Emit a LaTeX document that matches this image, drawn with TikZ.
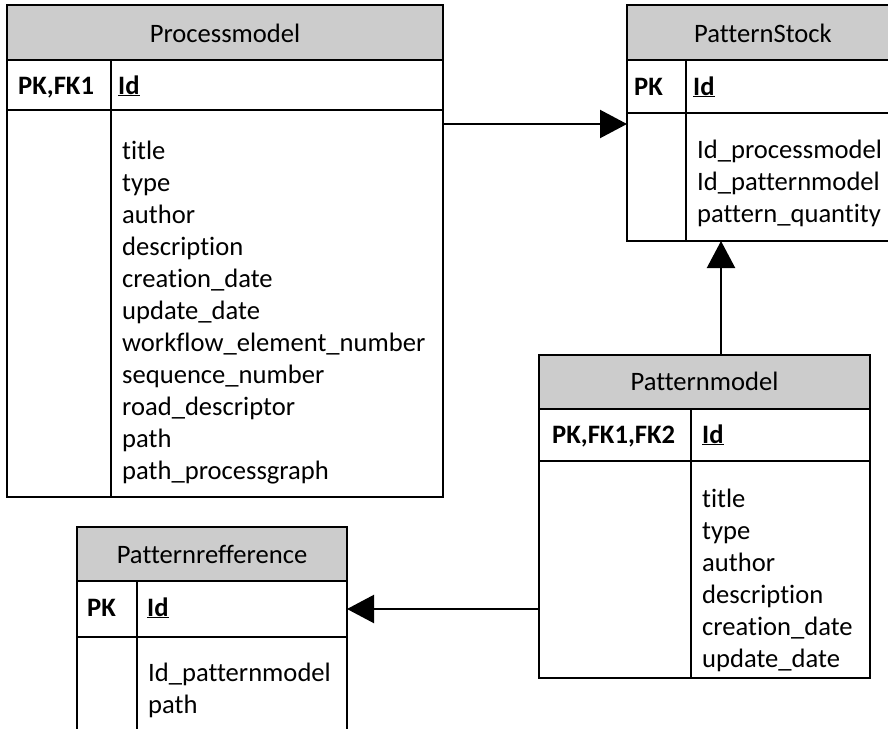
\documentclass[tikz,border=0pt]{standalone}
\usepackage{fontspec}
\setmainfont{Carlito}[Ligatures=NoCommon]
\usetikzlibrary{arrows.meta}
\definecolor{hdrgray}{RGB}{204,204,204}
\begin{document}
\begin{tikzpicture}[x=1pt,y=-1pt,
  font=\fontsize{26.6pt}{32pt}\selectfont,
  cell/.style={draw=black, line width=1.8pt, rectangle, inner sep=0pt, outer sep=0pt, anchor=north west},
  hdr/.style={cell, fill=hdrgray},
  txt/.style={anchor=base west, inner sep=0pt},
  htxt/.style={anchor=base, inner sep=0pt},
  key/.style={txt, font=\fontsize{26.6pt}{32pt}\selectfont\bfseries},
  conn/.style={line width=2.2pt, -{Triangle[length=27pt,width=28pt]}}]
\useasboundingbox (0,0) rectangle (888,728);
\fill[white] (0,0) rectangle (888,728);

% ---------- Processmodel ----------
\node[hdr, minimum width=436pt, minimum height=55pt] (pmh) at (7,5) {};
\node[cell, minimum width=104pt, minimum height=50pt] (pmk) at (7,60) {};
\node[cell, minimum width=332pt, minimum height=50pt] (pmi) at (111,60) {};
\node[cell, minimum width=104pt, minimum height=387pt] (pmkb) at (7,110) {};
\node[cell, minimum width=332pt, minimum height=387pt] (pmab) at (111,110) {};
\node[htxt] (pmt) at (225,42) {Processmodel};
\node[key] (pmpk) at (18,94) {PK,FK1};
\node[key] (pmid) at (118,94) {\underline{Id}};
\foreach \t [count=\i from 0] in {title,type,author,description,creation\_date,update\_date,workflow\_element\_number,sequence\_number,road\_descriptor,path,path\_processgraph}
  \node[txt] (pma\i) at (122,159+32*\i) {\t};

% ---------- PatternStock ----------
\node[hdr, minimum width=272pt, minimum height=55pt] (psh) at (627,5) {};
\node[cell, minimum width=59pt, minimum height=53pt] (psk) at (627,60) {};
\node[cell, minimum width=213pt, minimum height=53pt] (psi) at (686,60) {};
\node[cell, minimum width=59pt, minimum height=128pt] (pskb) at (627,113) {};
\node[cell, minimum width=213pt, minimum height=128pt] (psab) at (686,113) {};
\node[htxt] (pst) at (763,42) {PatternStock};
\node[key] (pspk) at (634,95) {PK};
\node[key] (psid) at (693,95) {\underline{Id}};
\foreach \t [count=\i from 0] in {Id\_processmodel,Id\_patternmodel,pattern\_quantity}
  \node[txt] (psa\i) at (697,158+32*\i) {\t};

% ---------- Patternmodel ----------
\node[hdr, minimum width=331pt, minimum height=54pt] (pmdh) at (539,355) {};
\node[cell, minimum width=152pt, minimum height=52pt] (pmdk) at (539,409) {};
\node[cell, minimum width=179pt, minimum height=52pt] (pmdi) at (691,409) {};
\node[cell, minimum width=152pt, minimum height=217pt] (pmdkb) at (539,461) {};
\node[cell, minimum width=179pt, minimum height=217pt] (pmdab) at (691,461) {};
\node[htxt] (pmdt) at (704.5,390) {Patternmodel};
\node[key] (pmdpk) at (552,443) {PK,FK1,FK2};
\node[key] (pmdid) at (702,443) {\underline{Id}};
\foreach \t [count=\i from 0] in {title,type,author,description,creation\_date,update\_date}
  \node[txt] (pmda\i) at (702,507+32*\i) {\t};

% ---------- Patternrefference ----------
\node[hdr, minimum width=270pt, minimum height=54pt] (prh) at (77,527) {};
\node[cell, minimum width=60pt, minimum height=56pt] (prk) at (77,581) {};
\node[cell, minimum width=210pt, minimum height=56pt] (pri) at (137,581) {};
\node[cell, minimum width=60pt, minimum height=110pt] (prkb) at (77,637) {};
\node[cell, minimum width=210pt, minimum height=110pt] (prab) at (137,637) {};
\node[htxt] (prt) at (212,563) {Patternrefference};
\node[key] (prpk) at (87,616) {PK};
\node[key] (prid) at (147,616) {\underline{Id}};
\foreach \t [count=\i from 0] in {Id\_patternmodel,path}
  \node[txt] (pra\i) at (148,681+32*\i) {\t};

% ---------- Connectors ----------
\draw[conn] ([yshift=-14pt]pmab.north east) -- ([yshift=-14pt]pmab.north east -| pskb.west);
\draw[conn] ([xshift=16.5pt]pmdh.north) -- ([xshift=16.5pt]pmdh.north |- pskb.south);
\draw[conn] (pmdkb.west |- pri.east) -- (pri.east);
\end{tikzpicture}
\end{document}
